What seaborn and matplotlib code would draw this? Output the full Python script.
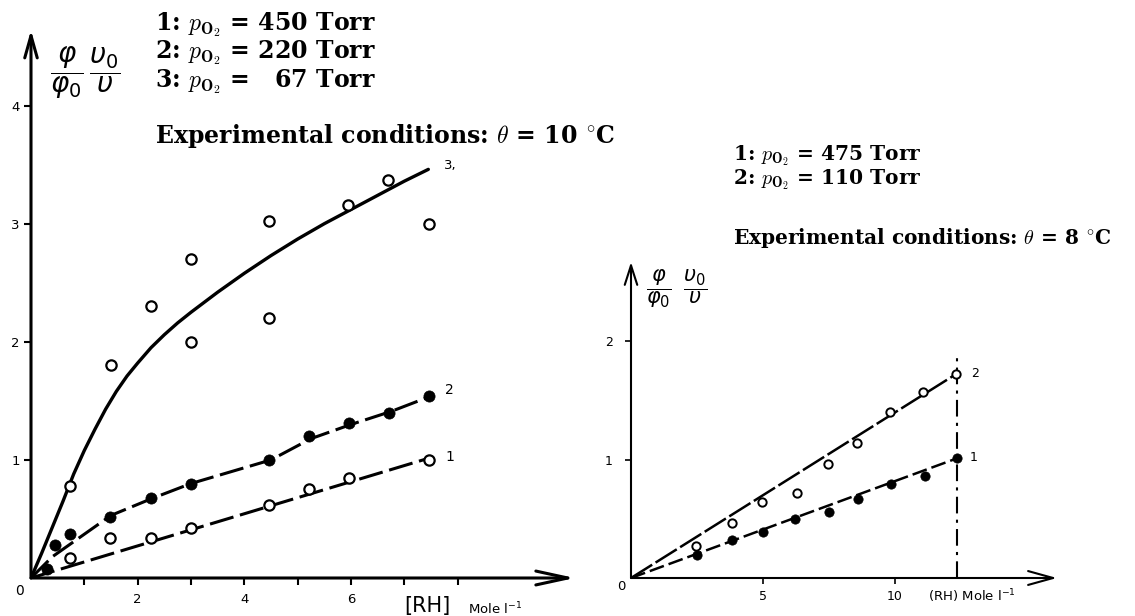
import matplotlib
matplotlib.use("Agg")
import matplotlib.pyplot as plt
import seaborn as sns

# ---------------- data: left panel (theta = 10 °C) ----------------
left_rh_1 = [0.73, 1.48, 2.25, 3.0, 4.47, 5.22, 5.97, 7.47]
left_val_1 = [0.17, 0.34, 0.34, 0.42, 0.62, 0.75, 0.85, 1.00]
left_rh_2 = [0.30, 0.45, 0.73, 1.48, 2.25, 3.0, 4.47, 5.22, 5.97, 6.72, 7.47]
left_val_2 = [0.08, 0.28, 0.37, 0.52, 0.68, 0.80, 1.00, 1.20, 1.31, 1.40, 1.54]
left_rh_3 = [0.73, 1.50, 2.25, 3.0, 3.0, 4.47, 4.47, 5.95, 6.70, 7.47]
left_val_3 = [0.78, 1.80, 2.30, 2.70, 2.00, 2.20, 3.02, 3.16, 3.37, 3.00]

left_fit_rh_1 = [0.0, 7.5]
left_fit_val_1 = [0.0, 1.02]
left_fit_rh_2 = [0.0, 0.40, 1.50, 2.25, 3.0, 4.5, 5.25, 6.0, 6.75, 7.5]
left_fit_val_2 = [0.0, 0.18, 0.53, 0.67, 0.80, 1.00, 1.18, 1.30, 1.41, 1.54]
left_fit_rh_3 = [0.0, 0.2, 0.4, 0.6, 0.8, 1.0, 1.2, 1.4, 1.6, 1.8, 2.0, 2.25, 2.5,
                 2.75, 3.0, 3.5, 4.0, 4.5, 5.0, 5.5, 6.0, 6.5, 7.0, 7.45]
left_fit_val_3 = [0.0, 0.21, 0.43, 0.65, 0.88, 1.08, 1.26, 1.43, 1.58, 1.71, 1.82, 1.95,
                  2.06, 2.16, 2.25, 2.42, 2.58, 2.73, 2.87, 3.00, 3.12, 3.24, 3.36, 3.46]

left_xticks = [1, 2, 3, 4, 5, 6, 7, 8]
left_xticklabels = ["", "2", "", "4", "", "6", "", ""]
left_yticks = [1, 2, 3, 4]
left_yticklabels = ["1", "2", "3", "4"]

# ---------------- data: right panel (theta = 8 °C) ----------------
right_rh_1 = [2.50, 3.83, 5.00, 6.20, 7.50, 8.60, 9.85, 11.14, 12.35]
right_val_1 = [0.19, 0.32, 0.39, 0.50, 0.56, 0.67, 0.79, 0.86, 1.01]
right_rh_2 = [2.46, 3.83, 4.96, 6.29, 7.46, 8.56, 9.80, 11.06, 12.31]
right_val_2 = [0.27, 0.46, 0.64, 0.72, 0.96, 1.14, 1.40, 1.57, 1.72]

right_fit_rh_1 = [0.0, 12.35]
right_fit_val_1 = [0.0, 1.01]
right_fit_rh_2 = [0.0, 12.31]
right_fit_val_2 = [0.0, 1.72]

right_limit_rh = 12.35
right_limit_top = 1.88

right_xticks = [5, 10]
right_xticklabels = ["5", "10"]
right_yticks = [1, 2]
right_yticklabels = ["1", "2"]

left_legend = [r"1: $p_{\mathbf{O}_{2}}$ = 450 Torr",
               r"2: $p_{\mathbf{O}_{2}}$ = 220 Torr",
               r"3: $p_{\mathbf{O}_{2}}$ =   67 Torr"]
left_cond = r"Experimental conditions: $\theta$ = 10 $^{\circ}$C"
right_legend = [r"1: $p_{\mathbf{O}_{2}}$ = 475 Torr",
                r"2: $p_{\mathbf{O}_{2}}$ = 110 Torr"]
right_cond = r"Experimental conditions: $\theta$ = 8 $^{\circ}$C"
ylabel_left = r"$\dfrac{\varphi}{\varphi_0}\,\dfrac{\upsilon_0}{\upsilon}$"
ylabel_right = r"$\dfrac{\varphi}{\varphi_0}\;\;\dfrac{\upsilon_0}{\upsilon}$"

# ---------------- figure ----------------
sns.set_theme(style="white")
plt.rcParams["font.family"] = ["DejaVu Sans"]
plt.rcParams["text.color"] = "black"

W, H = 1135, 616
fig = plt.figure(figsize=(W / 100, H / 100), dpi=100)
fig.patch.set_facecolor("white")


def fx(px):
    return px / W


def fy(py):
    return 1 - py / H


def make_axes(ox, oy, right_px, top_px, xmax, ymax):
    ax = fig.add_axes([fx(ox), fy(oy), (right_px - ox) / W, (oy - top_px) / H])
    ax.set_facecolor("none")
    ax.set_xlim(0, xmax)
    ax.set_ylim(0, ymax)
    for s in ax.spines.values():
        s.set_visible(False)
    return ax


def arrows(ax, lw, hl_x, hl_y):
    ax.annotate("", xy=(1, 0), xycoords="axes fraction", xytext=(0, 0),
                textcoords="axes fraction",
                arrowprops=dict(arrowstyle=f"->,head_length={hl_x},head_width=0.5",
                                lw=lw, color="black", shrinkA=0, shrinkB=0,
                                mutation_scale=10))
    ax.annotate("", xy=(0, 1), xycoords="axes fraction", xytext=(0, 0),
                textcoords="axes fraction",
                arrowprops=dict(arrowstyle=f"->,head_length={hl_y},head_width=0.45",
                                lw=lw, color="black", shrinkA=0, shrinkB=0,
                                mutation_scale=10))


def put_text(px, py, s, size):
    return fig.text(fx(px), fy(py), s, ha="left", va="baseline", math_fontfamily="cm",
                    family="DejaVu Serif", weight="bold", fontsize=size, color="black")


# ---- left panel ----
axL = make_axes(31, 578, 575, 30, 10.2, 4.64)
arrows(axL, 2.2, 2.3, 1.6)

sns.lineplot(x=left_fit_rh_3, y=left_fit_val_3, ax=axL, color="black", lw=2.4,
             sort=False, estimator=None)
sns.lineplot(x=left_fit_rh_2, y=left_fit_val_2, ax=axL, color="black", lw=2.2,
             sort=False, estimator=None, linestyle=(0, (8, 2.2)))
sns.lineplot(x=left_fit_rh_1, y=left_fit_val_1, ax=axL, color="black", lw=2.2,
             sort=False, estimator=None, linestyle=(0, (8, 2.2)))

sns.scatterplot(x=left_rh_3, y=left_val_3, ax=axL, s=55, facecolor="white",
                edgecolor="black", linewidth=1.6, zorder=5)
sns.scatterplot(x=left_rh_1, y=left_val_1, ax=axL, s=55, facecolor="white",
                edgecolor="black", linewidth=1.6, zorder=5)
sns.scatterplot(x=left_rh_2, y=left_val_2, ax=axL, s=65, color="black",
                edgecolor="black", linewidth=0.5, zorder=5)

axL.set_xticks(left_xticks)
axL.set_xticklabels(left_xticklabels)
axL.set_yticks(left_yticks)
axL.set_yticklabels(left_yticklabels)
axL.tick_params(axis="both", direction="out", length=5, width=1.5, colors="black",
                labelsize=9.5, pad=6, bottom=True, left=True)
axL.tick_params(axis="y", pad=3)
axL.annotate("0", xy=(0, 0), xytext=(-11, -13), textcoords="offset pixels",
             ha="center", va="center", fontsize=10)

axL.annotate("3,", xy=(left_fit_rh_3[-1], left_fit_val_3[-1]), xytext=(22, 4),
             textcoords="offset pixels", ha="center", va="center", fontsize=9.5)
axL.annotate("2", xy=(left_rh_2[-1], left_val_2[-1]), xytext=(20, 6),
             textcoords="offset pixels", ha="center", va="center", fontsize=10)
axL.annotate("1", xy=(left_rh_1[-1], left_val_1[-1]), xytext=(20, 3),
             textcoords="offset pixels", ha="center", va="center", fontsize=10)

fig.text(fx(85), fy(73), ylabel_left, math_fontfamily="dejavusans",
         fontsize=20, ha="center", va="center")
fig.text(fx(404), fy(612), "[RH]", fontsize=15, ha="left", va="baseline")
fig.text(fx(468), fy(614), r"Mole l$^{-1}$", fontsize=9.5, ha="left", va="baseline")

for i, t in enumerate(left_legend):
    put_text(155, 30 + 28.5 * i, t, 17)
put_text(155, 143, left_cond, 17)

# ---- right panel ----
axR = make_axes(631, 578, 1057, 262, 16.14, 2.667)
arrows(axR, 1.5, 1.8, 1.4)

sns.lineplot(x=right_fit_rh_2, y=right_fit_val_2, ax=axR, color="black", lw=1.8,
             sort=False, estimator=None, linestyle=(0, (10, 1.6)))
sns.lineplot(x=right_fit_rh_1, y=right_fit_val_1, ax=axR, color="black", lw=1.8,
             sort=False, estimator=None, linestyle=(0, (6, 2)))
axR.vlines(right_limit_rh, 0, right_limit_top, colors="black", lw=1.5,
           linestyles=(0, (8, 3, 1.5, 3)))

sns.scatterplot(x=right_rh_2, y=right_val_2, ax=axR, s=36, facecolor="white",
                edgecolor="black", linewidth=1.4, zorder=5)
sns.scatterplot(x=right_rh_1, y=right_val_1, ax=axR, s=45, color="black",
                edgecolor="black", linewidth=0.5, zorder=5)

axR.set_xticks(right_xticks)
axR.set_xticklabels(right_xticklabels)
axR.set_yticks(right_yticks)
axR.set_yticklabels(right_yticklabels)
axR.tick_params(axis="both", direction="out", length=4, width=1.2, colors="black",
                labelsize=9, pad=5, bottom=True, left=True)
axR.tick_params(axis="y", pad=9)
axR.annotate("0", xy=(0, 0), xytext=(-10, -9), textcoords="offset pixels",
             ha="center", va="center", fontsize=9.5)
axR.annotate("2", xy=(right_rh_2[-1], right_val_2[-1]), xytext=(19, 1),
             textcoords="offset pixels", ha="center", va="center", fontsize=9)
axR.annotate("1", xy=(right_rh_1[-1], right_val_1[-1]), xytext=(17, 1),
             textcoords="offset pixels", ha="center", va="center", fontsize=9)

fig.text(fx(677), fy(289), ylabel_right, math_fontfamily="dejavusans",
         fontsize=15, ha="center", va="center")
fig.text(fx(928), fy(601), r"(RH) Mole l$^{-1}$", fontsize=9.5, ha="left",
         va="baseline")

for i, t in enumerate(right_legend):
    put_text(733, 160 + 24 * i, t, 14.5)
put_text(733, 244, right_cond, 14.5)

fig.savefig("out.png", dpi=100, facecolor="white")
